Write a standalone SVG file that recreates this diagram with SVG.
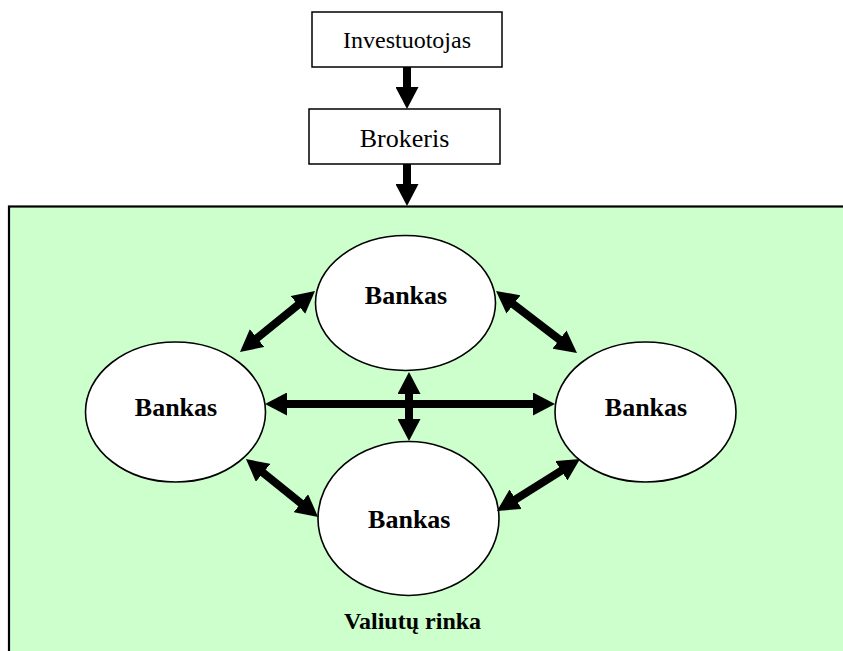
<svg xmlns="http://www.w3.org/2000/svg" width="843" height="651" viewBox="0 0 843 651">
<style>
.box{fill:#fff;stroke:#000;stroke-width:1.5}
.bank{fill:#fff;stroke:#000;stroke-width:1.6}
.t{font-family:"Liberation Serif","Times New Roman",serif;fill:#000;text-anchor:middle}
.b{font-weight:bold;font-size:26px}
.arr{stroke:#000;stroke-width:8;fill:none;marker-end:url(#ah)}
.dbl{stroke:#000;stroke-width:8;fill:none;marker-start:url(#ah);marker-end:url(#ah)}
</style>
<defs>
<marker id="ah" viewBox="0 0 22 23" refX="1" refY="11.5" markerWidth="22" markerHeight="23" markerUnits="userSpaceOnUse" orient="auto-start-reverse">
<path d="M0,0 L22,11.5 L0,23 z" fill="#000"/>
</marker>
</defs>
<rect id="market" x="9" y="206.5" width="840" height="450" fill="#CCFFCC" stroke="#000" stroke-width="2.2"/>
<g id="investuotojas">
<rect class="box" x="312" y="12" width="190" height="55"/>
<text class="t" x="407" y="48" font-size="24">Investuotojas</text>
</g>
<g id="brokeris">
<rect class="box" x="309" y="109" width="191" height="55"/>
<text class="t" x="404.5" y="147" font-size="26">Brokeris</text>
</g>
<g id="bank-top">
<ellipse class="bank" cx="405.5" cy="303" rx="90" ry="67.5"/>
<text class="t b" x="406" y="304">Bankas</text>
</g>
<g id="bank-left">
<ellipse class="bank" cx="175.5" cy="412" rx="90" ry="70"/>
<text class="t b" x="176" y="416">Bankas</text>
</g>
<g id="bank-right">
<ellipse class="bank" cx="645.5" cy="412" rx="90.5" ry="70"/>
<text class="t b" x="646" y="416">Bankas</text>
</g>
<g id="bank-bottom">
<ellipse class="bank" cx="408.5" cy="518.5" rx="90.5" ry="77"/>
<text class="t b" x="409.3" y="527.7">Bankas</text>
</g>
<text class="t" x="412.5" y="629" font-size="24" font-weight="bold">Valiutų rinka</text>
<g id="connectors">
<line class="arr" x1="407" y1="67" x2="407" y2="88"/>
<line class="arr" x1="407" y1="164" x2="407" y2="185"/>
<line class="dbl" x1="286" y1="404" x2="534" y2="404"/>
<line class="dbl" x1="409" y1="393" x2="409" y2="420"/>
<line class="dbl" x1="298.7" y1="304.3" x2="256.3" y2="338.7"/>
<line class="dbl" x1="512.7" y1="303.8" x2="560.3" y2="340.2"/>
<line class="dbl" x1="262.3" y1="472.2" x2="301.7" y2="503.8"/>
<line class="dbl" x1="562.2" y1="470.2" x2="514.8" y2="499.8"/>
</g>
</svg>
